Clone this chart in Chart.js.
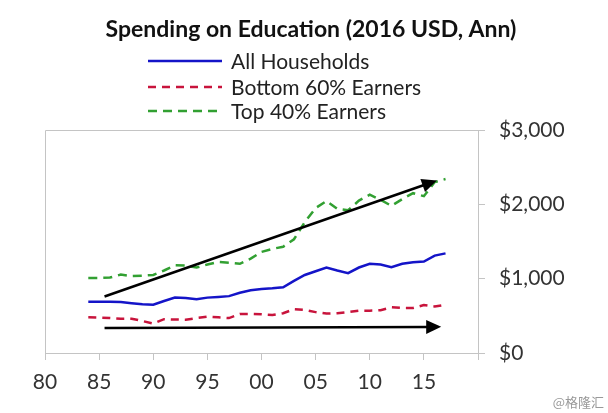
<!DOCTYPE html>
<html>
<head>
<meta charset="utf-8">
<script src="https://cdn.jsdelivr.net/npm/chart.js@4/dist/chart.umd.min.js"></script>
<style>
  html, body { margin: 0; padding: 0; background: #fff; }
  canvas { display: block; }
</style>
</head>
<body>
<canvas id="chart" width="608" height="413"></canvas>
<script>
// データ
const years = [1984, 1985, 1986, 1987, 1988, 1989, 1990, 1991, 1992, 1993, 1994, 1995, 1996, 1997, 1998, 1999, 2000,
  2001, 2002, 2003, 2004, 2005, 2006, 2007, 2008, 2009, 2010, 2011, 2012, 2013, 2014, 2015, 2016, 2017];
const allHouseholds = [690, 690, 690, 685, 670, 655, 650, 700, 745, 740, 722, 745, 755, 765, 810, 845, 860,
  870, 885, 970, 1050, 1100, 1150, 1110, 1075, 1150, 1200, 1190, 1155, 1200, 1220, 1230, 1310, 1340];
const bottom60 = [480, 478, 470, 460, 462, 430, 395, 455, 450, 448, 470, 490, 480, 470, 525, 525, 520,
  510, 535, 590, 580, 550, 530, 535, 550, 570, 570, 575, 615, 605, 605, 645, 625, 650];
const top40 = [1010, 1010, 1015, 1055, 1035, 1040, 1050, 1110, 1180, 1175, 1150, 1190, 1225, 1215, 1200, 1270, 1360,
  1400, 1430, 1530, 1760, 1950, 2045, 1940, 1920, 2050, 2130, 2060, 1980, 2070, 2150, 2110, 2300, 2340];
const seriesNames = ['All Households', 'Bottom 60% Earners', 'Top 40% Earners'];
const yTicks = [0, 1000, 2000, 3000];
// 矢印 [開始年, 開始値, 終了年, 終了値]
const arrowUp = [1985.5, 760, 2016.2, 2320];
const arrowFlat = [1985.5, 335, 2016.6, 352];

const titleText = 'Spending on Education (2016 USD, Ann)';
const colors = ['#1414c8', '#c8143c', '#32a032'];
const dashes = [[], [8, 6], [9, 6]];

function toPoints(values) {
  return years.map((y, i) => ({ x: y, y: values[i] }));
}

// タイトル・凡例・矢印
const decorPlugin = {
  id: 'decor',
  afterDatasetsDraw(chart) {
    const ctx = chart.ctx;
    const xs = chart.scales.x;
    const ys = chart.scales.y;
    [arrowUp, arrowFlat].forEach(a => {
      const x1 = xs.getPixelForValue(a[0]);
      const y1 = ys.getPixelForValue(a[1]);
      const x2 = xs.getPixelForValue(a[2]);
      const y2 = ys.getPixelForValue(a[3]);
      const ang = Math.atan2(y2 - y1, x2 - x1);
      const len = 15, half = 7;
      ctx.save();
      ctx.strokeStyle = '#000';
      ctx.lineWidth = 2.5;
      ctx.beginPath();
      ctx.moveTo(x1, y1);
      ctx.lineTo(x2 - len * 0.8 * Math.cos(ang), y2 - len * 0.8 * Math.sin(ang));
      ctx.stroke();
      ctx.fillStyle = '#000';
      ctx.beginPath();
      ctx.moveTo(x2, y2);
      ctx.lineTo(x2 - len * Math.cos(ang) + half * Math.sin(ang), y2 - len * Math.sin(ang) - half * Math.cos(ang));
      ctx.lineTo(x2 - len * Math.cos(ang) - half * Math.sin(ang), y2 - len * Math.sin(ang) + half * Math.cos(ang));
      ctx.closePath();
      ctx.fill();
      ctx.restore();
    });
  },
  afterDraw(chart) {
    const ctx = chart.ctx;
    const area = chart.chartArea;
    ctx.save();
    // 枠線（上・左）
    ctx.strokeStyle = '#c4c4c4';
    ctx.lineWidth = 1;
    ctx.beginPath();
    ctx.moveTo(area.left + 0.5, area.bottom);
    ctx.lineTo(area.left + 0.5, area.top + 0.5);
    ctx.lineTo(area.right, area.top + 0.5);
    ctx.stroke();

    ctx.fillStyle = '#111';
    ctx.font = 'bold 23px Lato';
    ctx.textAlign = 'center';
    ctx.textBaseline = 'alphabetic';
    ctx.fillText(titleText, 311, 37);

    ctx.font = '21px Lato';
    ctx.textAlign = 'left';
    ctx.textBaseline = 'middle';
    const rowY = [61, 87, 111];
    seriesNames.forEach((name, i) => {
      ctx.strokeStyle = colors[i];
      ctx.lineWidth = 2.5;
      ctx.setLineDash(dashes[i]);
      ctx.beginPath();
      ctx.moveTo(148, rowY[i]);
      ctx.lineTo(222, rowY[i]);
      ctx.stroke();
      ctx.setLineDash([]);
      ctx.fillStyle = '#222';
      ctx.fillText(name, 231, rowY[i] + 1);
    });

    ctx.fillStyle = '#999';
    ctx.font = '13px "Noto Sans CJK SC"';
    ctx.textAlign = 'right';
    ctx.fillText('@格隆汇', 604, 402);
    ctx.restore();
  }
};

new Chart(document.getElementById('chart'), {
  type: 'line',
  data: {
    datasets: [allHouseholds, bottom60, top40].map((vals, i) => ({
      label: seriesNames[i],
      data: toPoints(vals),
      borderColor: colors[i],
      borderWidth: 2.5,
      borderDash: dashes[i],
      pointRadius: 0,
      tension: 0,
      fill: false
    }))
  },
  options: {
    responsive: false,
    animation: false,
    layout: { padding: { left: 45, top: 130, right: 0, bottom: 0 } },
    plugins: {
      legend: { display: false },
      title: { display: false },
      tooltip: { enabled: false }
    },
    scales: {
      x: {
        type: 'linear',
        min: 1980,
        max: 2020,
        afterFit(scale) { scale.height = 60; },
        ticks: {
          stepSize: 5,
          padding: 10,
          color: '#333',
          font: { family: 'Lato', size: 21 },
          maxRotation: 0,
          callback: v => v === 2020 ? '' : String(v % 100).padStart(2, '0')
        },
        grid: { drawOnChartArea: false, tickLength: 7, color: '#c4c4c4' },
        border: { color: '#c4c4c4' }
      },
      y: {
        position: 'right',
        min: 0,
        max: 3000,
        afterFit(scale) { scale.width = 130; },
        afterBuildTicks(scale) { scale.ticks = yTicks.map(v => ({ value: v })); },
        ticks: {
          padding: 14,
          color: '#333',
          font: { family: 'Lato', size: 21 },
          callback: v => '$' + v.toLocaleString('en-US')
        },
        grid: { drawOnChartArea: false, tickLength: 7, color: '#c4c4c4' },
        border: { color: '#c4c4c4' }
      }
    }
  },
  plugins: [decorPlugin]
});
</script>
</body>
</html>
